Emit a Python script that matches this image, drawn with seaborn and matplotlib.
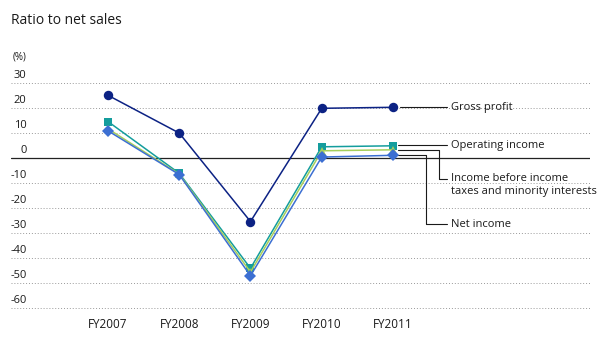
import matplotlib
matplotlib.use("Agg")
import matplotlib.pyplot as plt
import seaborn as sns
import pandas as pd

years = ["FY2007", "FY2008", "FY2009", "FY2010", "FY2011"]
gross_profit = [25.2, 10.1, -25.3, 20.0, 20.4]
operating_income = [14.7, -6.0, -44.0, 4.6, 5.0]
income_before_taxes = [11.8, -6.3, -45.5, 3.0, 3.4]
net_income = [11.0, -6.5, -47.0, 0.5, 1.2]
y_ticks = [30, 20, 10, 0, -10, -20, -30, -40, -50, -60]

series_names = ["Gross profit", "Operating income",
                "Income before income\ntaxes and minority interests", "Net income"]
series_values = [gross_profit, operating_income, income_before_taxes, net_income]
colors = ["#0c2284", "#149d9d", "#a6cf5c", "#3c6fd2"]
markers = ["o", "s", "^", "D"]
msizes = [6.8, 6.0, 6.0, 6.4]

sns.set_theme(style="white")
plt.rcParams["font.family"] = ["Open Sans", "DejaVu Sans"]

W, H = 603, 337
fig = plt.figure(figsize=(W / 100, H / 100), dpi=100)
ax_left, ax_right, ax_top, ax_bot = 11, 590, 75, 312
ax = fig.add_axes([ax_left / W, 1 - ax_bot / H, (ax_right - ax_left) / W, (ax_bot - ax_top) / H])

x_idx = list(range(len(years)))
rows = []
for name, vals in zip(series_names, series_values):
    for i, v in zip(x_idx, vals):
        rows.append({"x": i, "value": v, "series": name})
df = pd.DataFrame(rows)

# gridlines
for t in y_ticks:
    if t == 0:
        ax.axhline(0, color="#222222", lw=0.9, zorder=2)
    else:
        ax.axhline(t, color="#9a9a9a", lw=0.7, ls=(0, (1, 2)), zorder=1)

for k, (name, col, mk, ms) in enumerate(zip(series_names, colors, markers, msizes)):
    sub = df[df["series"] == name]
    sns.lineplot(data=sub, x="x", y="value", color=col, marker=mk, markersize=ms,
                 markeredgewidth=0, lw=1.1, ax=ax, zorder=3 + k)

ax.set_xlim(-1.361, 6.765)
ax.set_ylim((158.3 - ax_bot) / 2.5, (158.3 - ax_top) / 2.5)
ax.set_xticks(x_idx)
ax.set_xticklabels(years, fontsize=8.5)
ax.tick_params(axis="x", length=0, pad=4, colors="#1a1a1a")
ax.set_yticks([])
ax.set_xlabel("")
ax.set_ylabel("")
for s in ax.spines.values():
    s.set_visible(False)

# y tick labels above the gridlines
for t in y_ticks:
    ax.annotate(str(t), xy=(0, t), xycoords=("axes fraction", "data"),
                xytext=(15.5, 2.5), textcoords="offset pixels",
                ha="right", va="bottom", fontsize=8, color="#1a1a1a")

fig.text(13 / W, 1 - 57 / H, "(%)", fontsize=7, va="center", ha="left", color="#1a1a1a")
fig.text(11 / W, 1 - 21 / H, "Ratio to net sales", fontsize=10, va="center", ha="left", color="#1a1a1a")

# leader lines and labels
lc = "#1a1a1a"
x_last = x_idx[-1]
x_start = x_last + 0.07
x_end = x_last + 0.758
x_txt = x_last + 0.814
lfs = 8

# Gross profit
gy = gross_profit[-1]
ax.plot([x_last + 0.1, x_end], [gy, gy], color=lc, lw=0.8, zorder=2)
ax.text(x_txt, gy, series_names[0], fontsize=lfs, va="center", ha="left", color=lc)

# Operating income
oy = operating_income[-1] + 0.3
ax.plot([x_start, x_end], [oy, oy], color=lc, lw=0.8, zorder=2)
ax.text(x_txt, oy, series_names[1], fontsize=lfs, va="center", ha="left", color=lc)

# Income before taxes
iy = income_before_taxes[-1] - 0.1
iy2 = -8.3
xk1 = x_last + 0.646
ax.plot([x_start, xk1, xk1, x_end], [iy, iy, iy2, iy2], color=lc, lw=0.8, zorder=2)
ax.text(x_txt, iy2 + 2.6, series_names[2], fontsize=lfs, va="top", ha="left",
        color=lc, linespacing=1.3)

# Net income
ny = net_income[-1] + 0.1
ny2 = -26.3
xk2 = x_last + 0.463
ax.plot([x_start, xk2, xk2, x_end], [ny, ny, ny2, ny2], color=lc, lw=0.8, zorder=2)
ax.text(x_txt, ny2, series_names[3], fontsize=lfs, va="center", ha="left", color=lc)

fig.savefig("out.png", dpi=100, facecolor="white")
